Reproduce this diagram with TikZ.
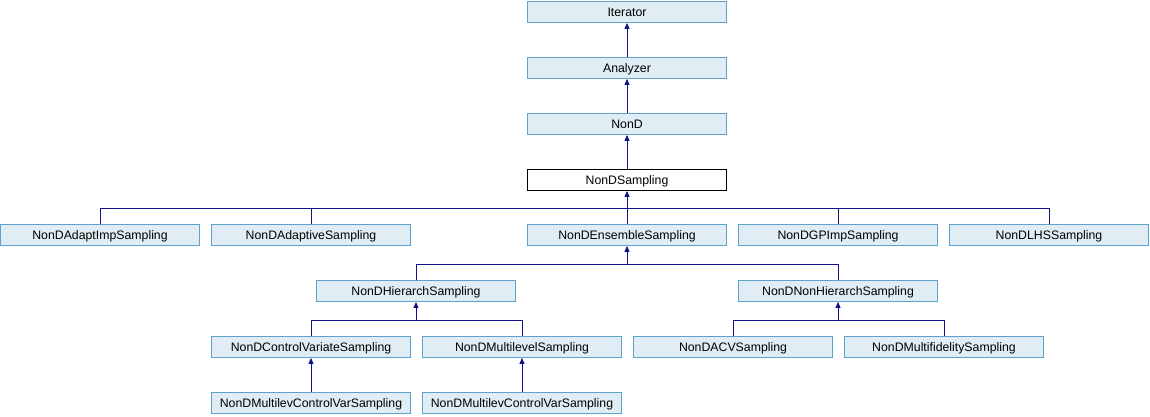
\documentclass[tikz,border=0pt]{standalone}
\usepackage{fontspec}
\setmainfont{Liberation Sans}
\usetikzlibrary{arrows.meta}
\definecolor{kastl}{HTML}{E1EDF4}
\definecolor{kastr}{HTML}{5BA3CA}
\definecolor{linie}{HTML}{10108C}

\begin{document}
\begin{tikzpicture}[x=1pt,y=-1pt,
  cls/.style={draw=kastr,fill=kastl,line width=0.9pt,minimum width=199pt,minimum height=21pt,
    inner sep=0pt,text height=10pt,text depth=1pt,font=\fontsize{12.3}{14}\selectfont},
  akt/.style={cls,draw=black,fill=white},
  baum/.style={linie,line width=0.9pt},
  erbt/.style={baum,-{Triangle[width=5pt,length=6pt]}}]
  \useasboundingbox (0,0) rectangle (1150,416);
  % Ebenen
  \node[cls] (iterator) at (627,12) {Iterator};
  \node[cls] (analyzer) at (627,68) {Analyzer};
  \node[cls] (nond) at (627,124) {NonD};
  \node[akt] (sampling) at (627,180) {NonDSampling};
  \node[cls] (adaptimp) at (100,235) {NonDAdaptImpSampling};
  \node[cls] (adaptive) at (311,235) {NonDAdaptiveSampling};
  \node[cls] (ensemble) at (627,235) {NonDEnsembleSampling};
  \node[cls] (gpimp) at (838,235) {NonDGPImpSampling};
  \node[cls] (lhs) at (1049,235) {NonDLHSSampling};
  \node[cls] (hier) at (416,291) {NonDHierarchSampling};
  \node[cls] (nonhier) at (838,291) {NonDNonHierarchSampling};
  \node[cls] (cvs) at (311,347) {NonDControlVariateSampling};
  \node[cls] (mls) at (522,347) {NonDMultilevelSampling};
  \node[cls] (acv) at (733,347) {NonDACVSampling};
  \node[cls] (mfs) at (944,347) {NonDMultifidelitySampling};
  \node[cls] (mlcv) at (311,403) {NonDMultilevControlVarSampling};
  \node[cls] (mlcvb) at (522,403) {NonDMultilevControlVarSampling};
  % Verzweigungen
  \coordinate (b1) at (627,208);
  \coordinate (b2) at (627,264);
  \coordinate (b3) at (416,320);
  \coordinate (b4) at (838,320);
  \draw[erbt] (analyzer) -- (iterator);
  \draw[erbt] (nond) -- (analyzer);
  \draw[erbt] (sampling) -- (nond);
  \foreach \k in {adaptimp,adaptive,gpimp,lhs}
    \draw[baum] (\k.north) |- (b1);
  \draw[erbt] (ensemble.north) -- (sampling.south);
  \foreach \k in {hier,nonhier}
    \draw[baum] (\k.north) |- (b2);
  \draw[erbt] (b2) -- (ensemble.south);
  \foreach \k in {cvs,mls}
    \draw[baum] (\k.north) |- (b3);
  \draw[erbt] (b3) -- (hier.south);
  \foreach \k in {acv,mfs}
    \draw[baum] (\k.north) |- (b4);
  \draw[erbt] (b4) -- (nonhier.south);
  \draw[erbt] (mlcv) -- (cvs);
  \draw[erbt] (mlcvb) -- (mls);
\end{tikzpicture}
\end{document}
